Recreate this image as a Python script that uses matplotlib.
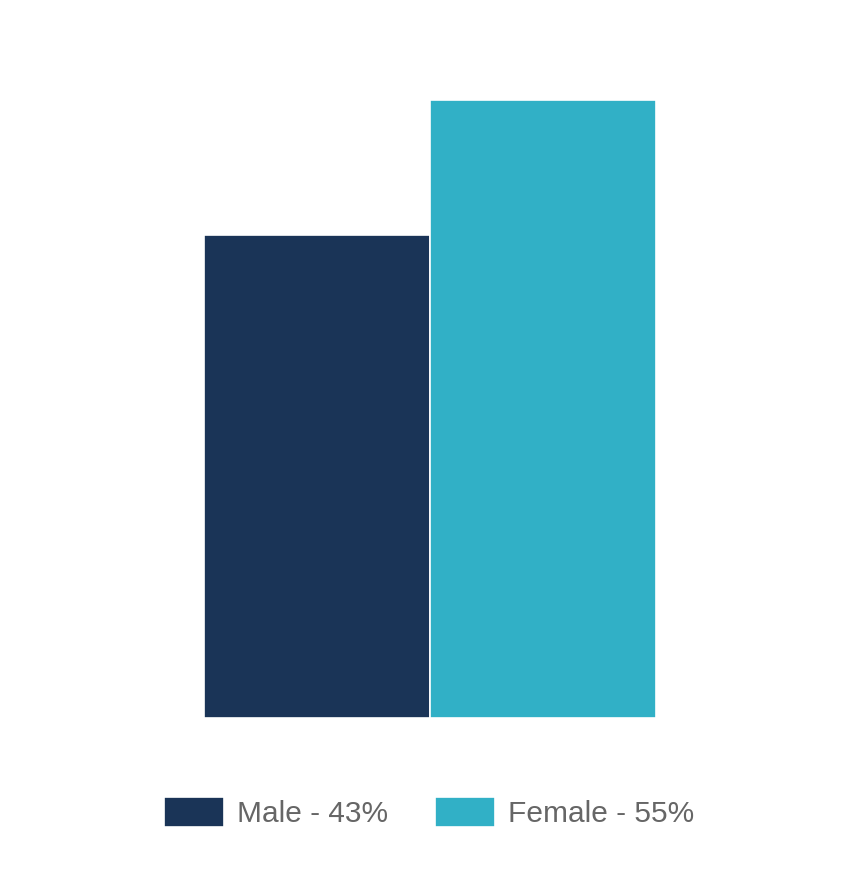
import matplotlib.pyplot as plt

categorias = ['Male', 'Female']
percentuais = [43, 55]
cores = ['#1a3457', '#31b0c6']
rotulos = ['Male - 43%', 'Female - 55%']

plt.rcParams['font.family'] = ['Liberation Sans', 'DejaVu Sans']

fig = plt.figure(figsize=(8.55, 8.75), dpi=100)
# eixo posicionado para casar com a area das barras
ax = fig.add_axes([204 / 855, 1 - 718 / 875, 452 / 855, 618 / 875])

barras = ax.bar(range(len(categorias)), percentuais, width=1.0, color=cores,
                edgecolor='white', linewidth=1.2)

ax.set_xlim(-0.5, len(categorias) - 0.5)
ax.set_ylim(0, max(percentuais))
ax.axis('off')

fig.legend(handles=list(barras), labels=rotulos, loc='center',
           bbox_to_anchor=(0.502, 0.071), ncol=2, frameon=False,
           fontsize=21.5, labelcolor='#666666', handlelength=2.0,
           handleheight=1.15, handletextpad=0.45, columnspacing=1.55)

fig.savefig('out.png', dpi=100)
